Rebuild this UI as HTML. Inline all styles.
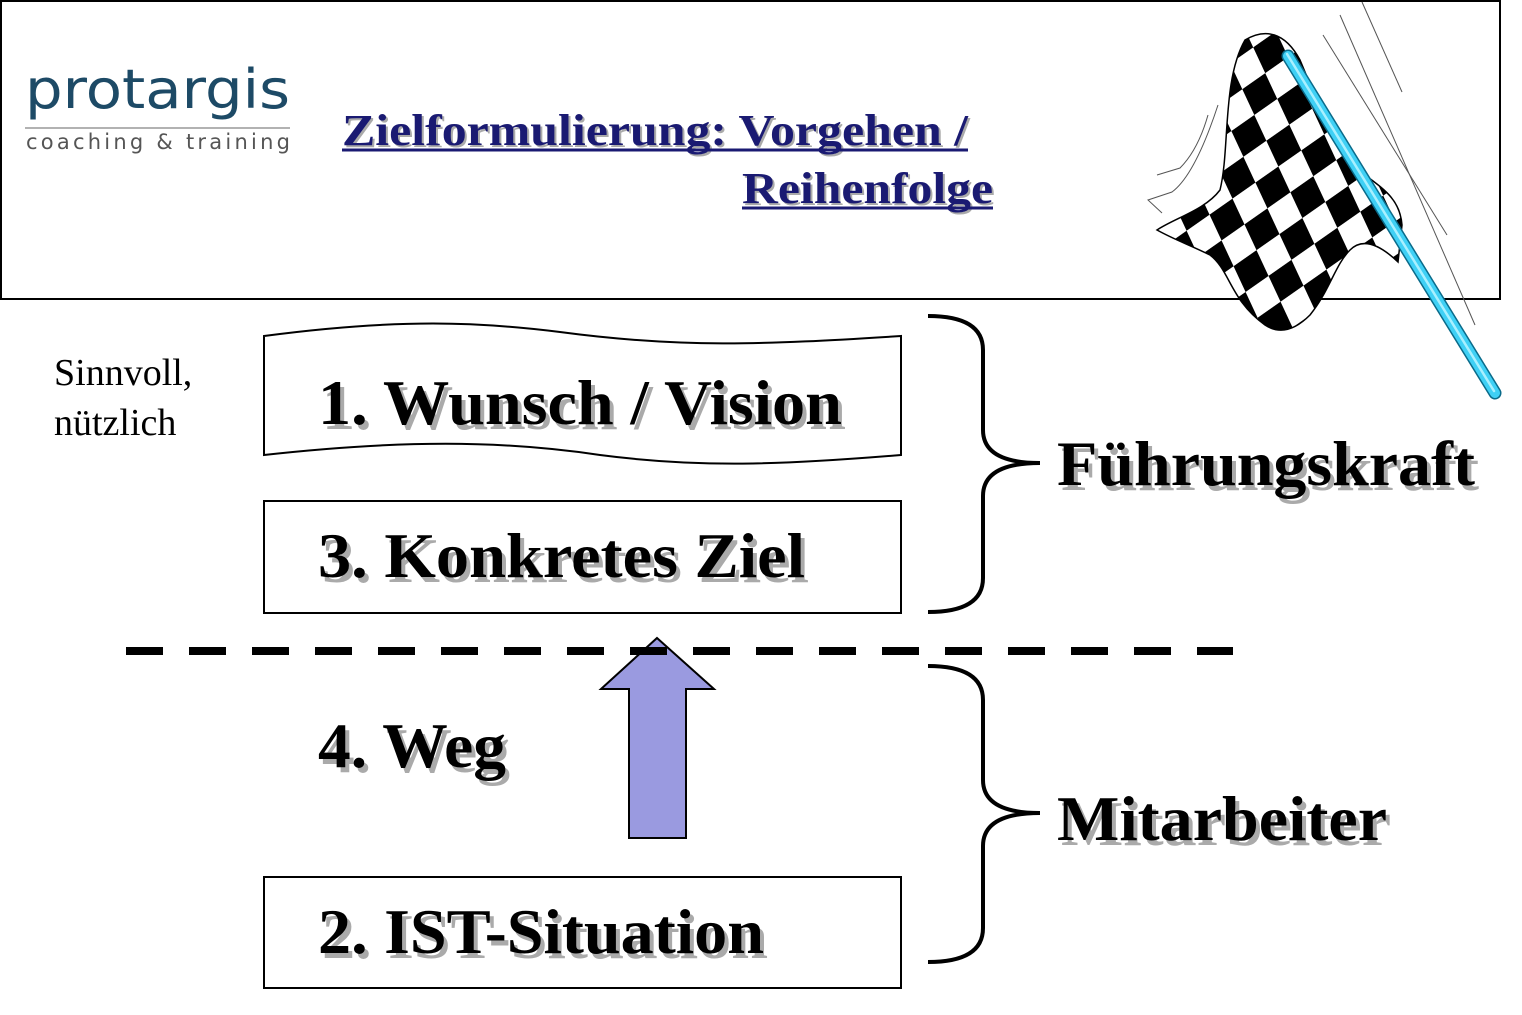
<!DOCTYPE html>
<html><head><meta charset="utf-8"><style>
html,body{margin:0;padding:0;background:#fff;}
svg{display:block}
</style></head><body>
<svg width="1522" height="1015" viewBox="0 0 1522 1015" xmlns="http://www.w3.org/2000/svg">
<defs>
<pattern id="chk" width="56" height="56" patternUnits="userSpaceOnUse" patternTransform="rotate(-35 1280 180) skewX(-10)">
<rect width="56" height="56" fill="#fff"/>
<rect width="28" height="28" fill="#000"/>
<rect x="28" y="28" width="28" height="28" fill="#000"/>
</pattern>
</defs>
<rect x="1" y="1" width="1499" height="298" fill="#fff" stroke="#000" stroke-width="2"/>
<!-- logo -->
<text x="25" y="108" font-family="DejaVu Sans, sans-serif" font-size="54" fill="#1d4a66" textLength="265" lengthAdjust="spacingAndGlyphs">protargis</text>
<line x1="25" y1="128" x2="290" y2="128" stroke="#999" stroke-width="1.5"/>
<text x="26" y="149" font-family="DejaVu Sans, sans-serif" font-size="21" fill="#555" textLength="264" lengthAdjust="spacing">coaching &amp; training</text>
<!-- title -->
<g font-family="Liberation Serif, serif" font-weight="bold" font-size="44">
<text x="344" y="147" fill="#aaa" textLength="626" lengthAdjust="spacingAndGlyphs">Zielformulierung: Vorgehen /</text>
<text x="342" y="145" fill="#1a1a72" textLength="626" lengthAdjust="spacingAndGlyphs">Zielformulierung: Vorgehen /</text>
<text x="744" y="205" fill="#aaa" textLength="251" lengthAdjust="spacingAndGlyphs">Reihenfolge</text>
<text x="742" y="203" fill="#1a1a72" textLength="251" lengthAdjust="spacingAndGlyphs">Reihenfolge</text>
</g>
<line x1="342" y1="150" x2="968" y2="150" stroke="#1a1a72" stroke-width="3"/>
<line x1="742" y1="208" x2="993" y2="208" stroke="#1a1a72" stroke-width="3"/>
<!-- flag -->
<g stroke="#555" stroke-width="1" fill="none">
<line x1="1323" y1="35" x2="1447" y2="235"/>
<line x1="1340" y1="15" x2="1475" y2="325"/>
<line x1="1362" y1="2" x2="1402" y2="92"/>
<path d="M1162,213 L1148,200 L1172,192 Q1195,175 1218,105"/>
<path d="M1157,175 L1180,168 Q1198,150 1208,115"/>
</g>
<path d="M1245,40 C1265,28 1285,32 1300,60 C1315,95 1330,140 1365,175 C1385,190 1400,200 1402,225 L1398,262 C1375,240 1360,240 1350,250 C1335,265 1330,290 1310,315 C1295,330 1280,335 1265,325 C1230,300 1230,270 1210,255 C1190,245 1175,240 1157,230 C1175,218 1205,210 1220,190 C1230,150 1222,80 1245,40 Z" fill="url(#chk)" stroke="#000" stroke-width="1.5"/>
<line x1="1288" y1="56" x2="1495" y2="393" stroke="#0a6b8a" stroke-width="13" stroke-linecap="round"/>
<line x1="1288" y1="56" x2="1495" y2="393" stroke="#3fd0f5" stroke-width="10" stroke-linecap="round"/>
<line x1="1287" y1="54" x2="1494" y2="391" stroke="#a8f0ff" stroke-width="2.5" stroke-linecap="round"/>
<!-- side text -->
<g font-family="Liberation Serif, serif" font-size="38" fill="#000">
<text x="54" y="385">Sinnvoll,</text>
<text x="54" y="435">nützlich</text>
</g>
<!-- wavy box -->
<path d="M264,336 C400,318 480,322 560,332 C680,348 760,345 901,336 L901,455 C780,465 700,468 600,455 C500,440 400,440 264,455 Z" fill="#fff" stroke="#000" stroke-width="2"/>
<rect x="264" y="501" width="637" height="112" fill="#fff" stroke="#000" stroke-width="2"/>
<rect x="264" y="877" width="637" height="111" fill="#fff" stroke="#000" stroke-width="2"/>
<!-- arrow -->
<path d="M657,638 L714,689 L686,689 L686,838 L629,838 L629,689 L601,689 Z" fill="#9a9ae0" stroke="#000" stroke-width="2"/>
<!-- dashed line -->
<line x1="126" y1="651" x2="1233" y2="651" stroke="#000" stroke-width="8" stroke-dasharray="37 26"/>
<!-- braces -->
<g fill="none" stroke="#000" stroke-width="4">
<path d="M928,316 Q983,316 983,350 L983,430 Q983,463 1040,463 Q983,463 983,496 L983,578 Q983,612 928,612"/>
<path d="M928,666 Q983,666 983,700 L983,780 Q983,813 1040,813 Q983,813 983,846 L983,928 Q983,962 928,962"/>
</g>
<!-- big labels -->
<g font-family="Liberation Serif, serif" font-weight="bold" font-size="64">
<g fill="#aaa" transform="translate(4,5)">
<text x="318" y="424" textLength="524" lengthAdjust="spacingAndGlyphs">1. Wunsch / Vision</text>
<text x="318" y="577" textLength="487" lengthAdjust="spacingAndGlyphs">3. Konkretes Ziel</text>
<text x="318" y="767" textLength="188" lengthAdjust="spacingAndGlyphs">4. Weg</text>
<text x="318" y="953" textLength="446" lengthAdjust="spacingAndGlyphs">2. IST-Situation</text>
<text x="1057" y="485" textLength="418" lengthAdjust="spacingAndGlyphs">Führungskraft</text>
<text x="1057" y="840" textLength="330" lengthAdjust="spacingAndGlyphs">Mitarbeiter</text>
</g>
<g fill="#000">
<text x="318" y="424" textLength="524" lengthAdjust="spacingAndGlyphs">1. Wunsch / Vision</text>
<text x="318" y="577" textLength="487" lengthAdjust="spacingAndGlyphs">3. Konkretes Ziel</text>
<text x="318" y="767" textLength="188" lengthAdjust="spacingAndGlyphs">4. Weg</text>
<text x="318" y="953" textLength="446" lengthAdjust="spacingAndGlyphs">2. IST-Situation</text>
<text x="1057" y="485" textLength="418" lengthAdjust="spacingAndGlyphs">Führungskraft</text>
<text x="1057" y="840" textLength="330" lengthAdjust="spacingAndGlyphs">Mitarbeiter</text>
</g>
</g>
</svg>
</body></html>
